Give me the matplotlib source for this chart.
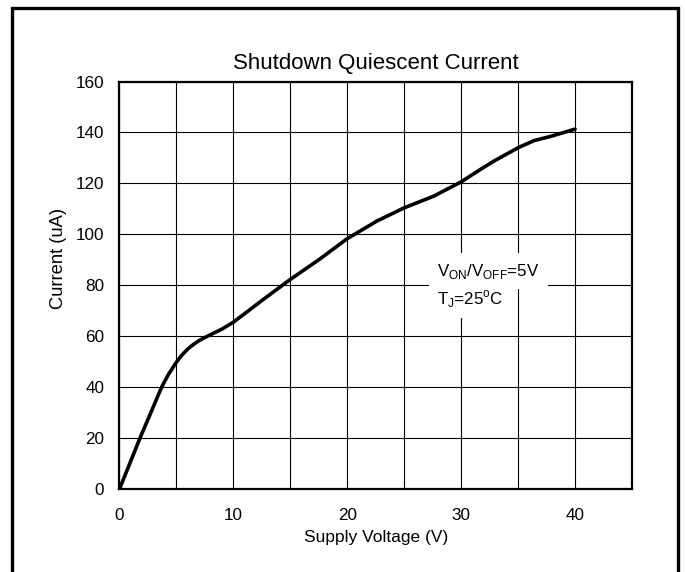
#!/usr/bin/env python3

import matplotlib
matplotlib.use("Agg")
import matplotlib.pyplot as plt
from matplotlib.patches import Rectangle

# Shutdown quiescent current vs supply voltage
voltage = [0.0, 0.9, 1.8, 2.8, 3.7, 4.3, 4.95, 5.4, 6.0, 6.5, 7.0, 7.5, 8.0, 9.0, 10.0,
           12.5, 15.0, 17.5, 20.0, 22.6, 25.0, 27.6, 30.0, 31.7, 32.9, 35.0, 36.4, 37.9, 40.0]
current = [0.0, 10.0, 20.0, 30.5, 40.0, 45.0, 49.5, 52.2, 55.0, 56.8, 58.3, 59.5, 60.6, 62.8, 65.5,
           74.0, 82.3, 90.0, 98.3, 105.2, 110.4, 115.0, 120.6, 125.5, 128.8, 134.0, 136.8, 138.5, 141.3]

x_ticks = [0, 10, 20, 30, 40]
y_ticks = [0, 20, 40, 60, 80, 100, 120, 140, 160]

plt.rcParams["font.family"] = ["Liberation Sans", "DejaVu Sans"]

fig = plt.figure(figsize = (6.85, 5.72), dpi = 100)
ax = fig.add_axes([119.5 / 685, 1 - 489 / 572, (632 - 119.5) / 685, (489 - 81.5) / 572])

ax.plot(voltage, current, color = "black", linewidth = 2.6, solid_capstyle = "round",
        solid_joinstyle = "round", zorder = 3)

ax.set_xlim(0, 45)
ax.set_ylim(0, 160)
ax.set_xticks(x_ticks)
ax.set_yticks(y_ticks)
ax.set_xticks(range(0, 46, 5), minor = True)
ax.grid(True, which = "both", color = "black", linewidth = 0.8)
ax.tick_params(which = "both", length = 0, labelsize = 12.3)
ax.tick_params(axis = "x", pad = 14)
ax.tick_params(axis = "y", pad = 11)
for side in ax.spines:
    ax.spines[side].set_linewidth(1.6)

ax.set_title("Shutdown Quiescent Current", fontsize = 16, pad = 9)
ax.set_xlabel("Supply Voltage (V)", fontsize = 12.5, labelpad = 5)
ax.set_ylabel("Current (uA)", fontsize = 13.2)
# the y label sits above the middle of the axis in the original
ax.yaxis.set_label_coords(-0.1024, 0.567)

ax.text(27.9, 85.5, r"V$_{\mathregular{ON}}$/V$_{\mathregular{OFF}}$=5V", fontsize = 12.2, va = "center",
        zorder = 4, bbox = dict(facecolor = "white", edgecolor = "none", pad = 6))
ax.text(27.9, 74.5, r"T$_{\mathregular{J}}$=25$^{\mathregular{o}}$C", fontsize = 12.2, va = "center",
        zorder = 4, bbox = dict(facecolor = "white", edgecolor = "none", pad = 6))

# outer frame around the whole chart
fig.patches.append(Rectangle((12 / 685, -0.02), (678 - 12) / 685, 1.02 - 8 / 572,
                             transform = fig.transFigure, fill = False,
                             edgecolor = "black", linewidth = 2.4))

fig.savefig("out.png", dpi = 100)
